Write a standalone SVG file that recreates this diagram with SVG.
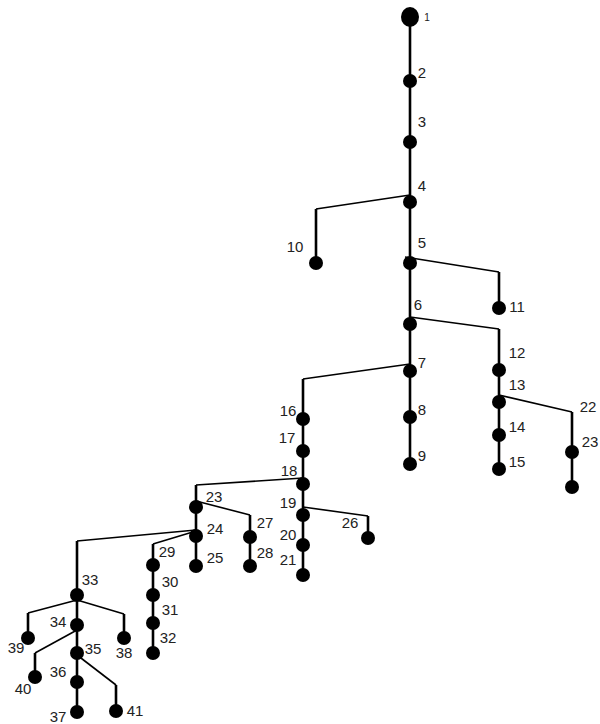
<svg xmlns="http://www.w3.org/2000/svg" width="600" height="724" viewBox="0 0 600 724">
<style>
.v{stroke:#000;stroke-width:2.6;fill:none}
.d{stroke:#000;stroke-width:1.6;fill:none}
.n{fill:#000}
text{font-family:"Liberation Sans",Arial,sans-serif;font-size:15px;fill:#222;text-anchor:middle}
</style>
<rect width="600" height="724" fill="#fff"/>
<g id="connectors">
<line class="v" x1="410" y1="17" x2="410" y2="464"/>
<polyline class="d" points="410,195 316,209"/><line class="v" x1="316" y1="209" x2="316" y2="263"/>
<polyline class="d" points="405,257 499,272"/><line class="v" x1="499" y1="272" x2="499" y2="308"/>
<polyline class="d" points="410,317 499,329"/><line class="v" x1="499" y1="329" x2="499" y2="469"/>
<polyline class="d" points="499,395 572,412"/><line class="v" x1="572" y1="412" x2="572" y2="487"/>
<polyline class="d" points="410,364 303,379"/><line class="v" x1="303" y1="379" x2="303" y2="576"/>
<polyline class="d" points="303,507 368,516"/><line class="v" x1="368" y1="516" x2="368" y2="538"/>
<polyline class="d" points="303,478 196,485"/><line class="v" x1="196" y1="485" x2="196" y2="566"/>
<polyline class="d" points="196,501 250,515"/><line class="v" x1="250" y1="515" x2="250" y2="566"/>
<polyline class="d" points="196,530 77,541"/><line class="v" x1="77" y1="541" x2="77" y2="712"/>
<polyline class="d" points="196,531 153,544"/><line class="v" x1="153" y1="544" x2="153" y2="653"/>
<polyline class="d" points="77,600 28,613"/><line class="v" x1="28" y1="613" x2="28" y2="638"/>
<polyline class="d" points="77,600 124,614"/><line class="v" x1="124" y1="614" x2="124" y2="638"/>
<polyline class="d" points="77,630 35,653"/><line class="v" x1="35" y1="653" x2="35" y2="677"/>
<polyline class="d" points="77,655 116,685"/><line class="v" x1="116" y1="685" x2="116" y2="711"/>
</g>
<g id="n1"><ellipse class="n" cx="410" cy="17" rx="9" ry="10"/><text x="427" y="21" style="font-size:10px">1</text></g>
<g id="n2"><circle class="n" cx="410" cy="81" r="7"/><text x="422" y="78">2</text></g>
<g id="n3"><circle class="n" cx="410" cy="142" r="7"/><text x="422" y="127">3</text></g>
<g id="n4"><circle class="n" cx="410" cy="202" r="7"/><text x="422" y="191">4</text></g>
<g id="n5"><circle class="n" cx="410" cy="263" r="7"/><text x="422" y="248">5</text></g>
<g id="n6"><circle class="n" cx="410" cy="324" r="7"/><text x="418" y="310">6</text></g>
<g id="n7"><circle class="n" cx="410" cy="371" r="7"/><text x="422" y="368">7</text></g>
<g id="n8"><circle class="n" cx="410" cy="417" r="7"/><text x="422" y="415">8</text></g>
<g id="n9"><circle class="n" cx="410" cy="464" r="7"/><text x="422" y="461">9</text></g>
<g id="n10"><circle class="n" cx="316" cy="263" r="7"/><text x="295" y="252">10</text></g>
<g id="n11"><circle class="n" cx="499" cy="308" r="7"/><text x="517" y="312">11</text></g>
<g id="n12"><circle class="n" cx="499" cy="370" r="7"/><text x="517" y="358">12</text></g>
<g id="n13"><circle class="n" cx="499" cy="402" r="7"/><text x="517" y="390">13</text></g>
<g id="n14"><circle class="n" cx="499" cy="435" r="7"/><text x="517" y="432">14</text></g>
<g id="n15"><circle class="n" cx="499" cy="469" r="7"/><text x="517" y="467">15</text></g>
<g id="n22"><text x="588" y="412">22</text></g>
<g id="n23r"><circle class="n" cx="572" cy="452" r="7"/><text x="590" y="447">23</text></g>
<g id="n23r-child"><circle class="n" cx="572" cy="487" r="7"/></g>
<g id="n16"><circle class="n" cx="303" cy="419" r="7"/><text x="288" y="416">16</text></g>
<g id="n17"><circle class="n" cx="303" cy="451" r="7"/><text x="287" y="443">17</text></g>
<g id="n18"><circle class="n" cx="303" cy="484" r="7"/><text x="289" y="476">18</text></g>
<g id="n19"><circle class="n" cx="303" cy="515" r="7"/><text x="288" y="508">19</text></g>
<g id="n20"><circle class="n" cx="303" cy="545" r="7"/><text x="288" y="540">20</text></g>
<g id="n21"><circle class="n" cx="303" cy="575" r="7"/><text x="288" y="565">21</text></g>
<g id="n26"><circle class="n" cx="368" cy="538" r="7"/><text x="350" y="528">26</text></g>
<g id="n23"><circle class="n" cx="196" cy="507" r="7"/><text x="214" y="502">23</text></g>
<g id="n24"><circle class="n" cx="196" cy="536" r="7"/><text x="215" y="534">24</text></g>
<g id="n25"><circle class="n" cx="196" cy="566" r="7"/><text x="215" y="563">25</text></g>
<g id="n27"><circle class="n" cx="250" cy="537" r="7"/><text x="265" y="528">27</text></g>
<g id="n28"><circle class="n" cx="250" cy="566" r="7"/><text x="265" y="558">28</text></g>
<g id="n29"><circle class="n" cx="153" cy="565" r="7"/><text x="167" y="557">29</text></g>
<g id="n30"><circle class="n" cx="153" cy="595" r="7"/><text x="170" y="587">30</text></g>
<g id="n31"><circle class="n" cx="153" cy="623" r="7"/><text x="170" y="615">31</text></g>
<g id="n32"><circle class="n" cx="153" cy="653" r="7"/><text x="168" y="643">32</text></g>
<g id="n33"><circle class="n" cx="77" cy="595" r="7"/><text x="90" y="585">33</text></g>
<g id="n34"><circle class="n" cx="77" cy="625" r="7"/><text x="58" y="627">34</text></g>
<g id="n35"><circle class="n" cx="77" cy="653" r="7"/><text x="93" y="654">35</text></g>
<g id="n36"><circle class="n" cx="77" cy="682" r="7"/><text x="58" y="677">36</text></g>
<g id="n37"><circle class="n" cx="77" cy="712" r="7"/><text x="58" y="722">37</text></g>
<g id="n38"><circle class="n" cx="124" cy="638" r="7"/><text x="124" y="658">38</text></g>
<g id="n39"><circle class="n" cx="28" cy="638" r="7"/><text x="16" y="653">39</text></g>
<g id="n40"><circle class="n" cx="35" cy="677" r="7"/><text x="23" y="694">40</text></g>
<g id="n41"><circle class="n" cx="116" cy="711" r="7"/><text x="135" y="716">41</text></g>
</svg>
